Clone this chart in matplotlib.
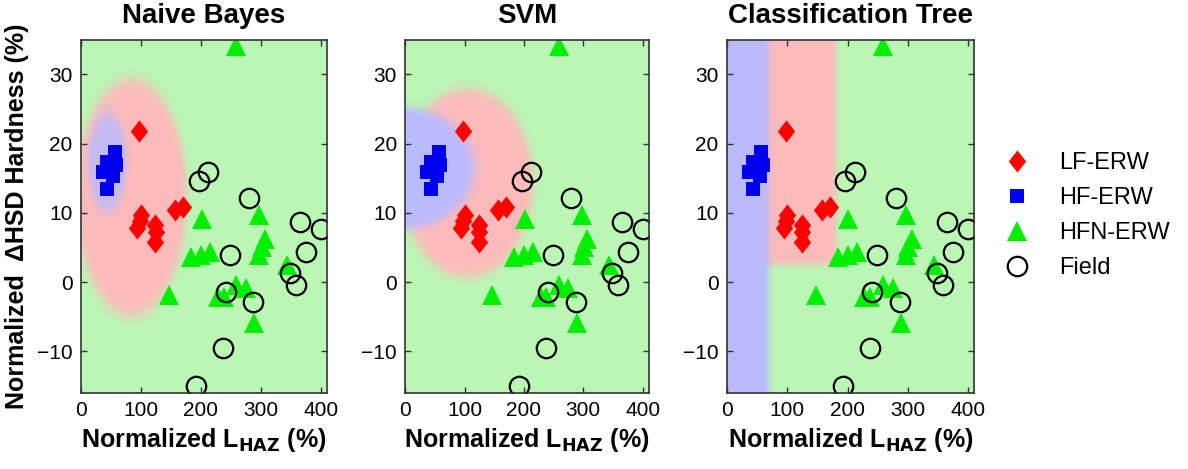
import numpy as np
import matplotlib
matplotlib.use('Agg')
import matplotlib.pyplot as plt

plt.rcParams['font.family'] = ['Liberation Sans', 'DejaVu Sans']

# data (same points in all three panels)
lf_x = [97, 100, 98, 94, 124, 125, 124, 157, 170]
lf_y = [21.8, 9.7, 8.8, 7.8, 8.3, 7.2, 5.8, 10.5, 10.9]

hf_x = [57, 43, 59, 37, 54, 48, 43]
hf_y = [18.8, 17.4, 16.9, 15.9, 15.4, 16.0, 13.5]

hfn_x = [259, 201, 297, 307, 301, 297, 184, 200, 215, 344, 147, 259, 275, 228, 238, 289]
hfn_y = [34.1, 9.2, 9.7, 6.3, 5.1, 3.9, 3.7, 3.9, 4.4, 2.5, -1.8, -0.4, -0.9, -2.2, -2.2, -5.9]

field_x = [192, 237, 212, 196, 280, 365, 400, 375, 249, 348, 359, 241, 287]
field_y = [-15.0, -9.5, 15.9, 14.6, 12.2, 8.7, 7.7, 4.4, 4.0, 1.3, -0.4, -1.4, -2.9]

titles = ['Naive Bayes', 'SVM', 'Classification Tree']
labels = ['LF-ERW', 'HF-ERW', 'HFN-ERW', 'Field']

xlim = (0, 410)
ylim = (-16, 35)

green = np.array([0.73, 0.97, 0.71])
red = np.array([0.99, 0.73, 0.73])
blue = np.array([0.73, 0.73, 0.99])


def soft(d, w):
    return 1.0 / (1.0 + np.exp(-d / w))


def ellipse(X, Y, cx, cy, a, b):
    return 1.0 - np.sqrt(((X - cx) / a) ** 2 + ((Y - cy) / b) ** 2)


gx = np.linspace(xlim[0], xlim[1], 500)
gy = np.linspace(ylim[0], ylim[1], 500)
X, Y = np.meshgrid(gx, gy)


def regionImage(kind):
    if kind == 0:
        m_red = soft(ellipse(X, Y, 84, 12.2, 92, 17.1), 0.035)
        m_blue = soft(ellipse(X, Y, 44, 17.3, 32, 7.1), 0.07) * 0.85
    elif kind == 1:
        m_red = soft(ellipse(X, Y, 105, 14.3, 110, 13.6), 0.035)
        m_blue = soft(ellipse(X, Y, -10, 16.4, 127, 8.8), 0.04)
    else:
        m_blue = soft(69 - X, 3.0)
        m_red = soft(181 - X, 3.0) * soft(Y - 2.5, 0.3)
    img = green[None, None, :] * np.ones(X.shape)[:, :, None]
    img = img * (1 - m_red[:, :, None]) + red * m_red[:, :, None]
    img = img * (1 - m_blue[:, :, None]) + blue * m_blue[:, :, None]
    return img


fig = plt.figure(figsize=(11.88, 4.69), dpi=100)
lefts = [0.0682, 0.341, 0.612]
widths = [0.207, 0.205, 0.208]

axes = []
for i in range(3):
    ax = fig.add_axes([lefts[i], 0.162, widths[i], 0.753])
    ax.imshow(regionImage(i), extent=[xlim[0], xlim[1], ylim[0], ylim[1]],
              origin='lower', aspect='auto', zorder=0, interpolation='bilinear')
    h1, = ax.plot(lf_x, lf_y, linestyle='none', marker=[(0, 1), (0.78, 0), (0, -1), (-0.78, 0)],
                  markersize=16, color='red', markeredgewidth=0)
    h2, = ax.plot(hf_x, hf_y, linestyle='none', marker='s', markersize=10, color='#0000ee',
                  markeredgewidth=0)
    h3, = ax.plot(hfn_x, hfn_y, linestyle='none', marker='^', markersize=14, color='#00ee00',
                  markeredgewidth=0)
    h4, = ax.plot(field_x, field_y, linestyle='none', marker='o', markersize=14,
                  markerfacecolor='none', markeredgecolor='black', markeredgewidth=1.6)
    ax.set_xlim(xlim)
    ax.set_ylim(ylim)
    ax.set_xticks([0, 100, 200, 300, 400])
    ax.set_yticks([-10, 0, 10, 20, 30])
    ax.tick_params(direction='in', top=True, right=True, length=4, width=1,
                   labelsize=15, color='#333333', pad=6)
    for s in ax.spines.values():
        s.set_color('#333333')
        s.set_linewidth(1.2)
    ax.set_title(titles[i], fontsize=20, fontweight='bold', pad=12)
    ax.set_xlabel('Normalized L$_{\\mathbf{HAZ}}$ (%)', fontsize=18, fontweight='bold', labelpad=4)
    axes.append(ax)
    handles = [h1, h2, h3, h4]

axes[0].set_ylabel('Normalized  \u0394HSD Hardness (%)', fontsize=18, fontweight='bold', labelpad=6)

fig.legend(handles, labels, loc='center left', bbox_to_anchor=(0.818, 0.54), frameon=False,
           fontsize=17, handletextpad=0.8, labelspacing=0.55)

fig.savefig('out.png', dpi=100)
